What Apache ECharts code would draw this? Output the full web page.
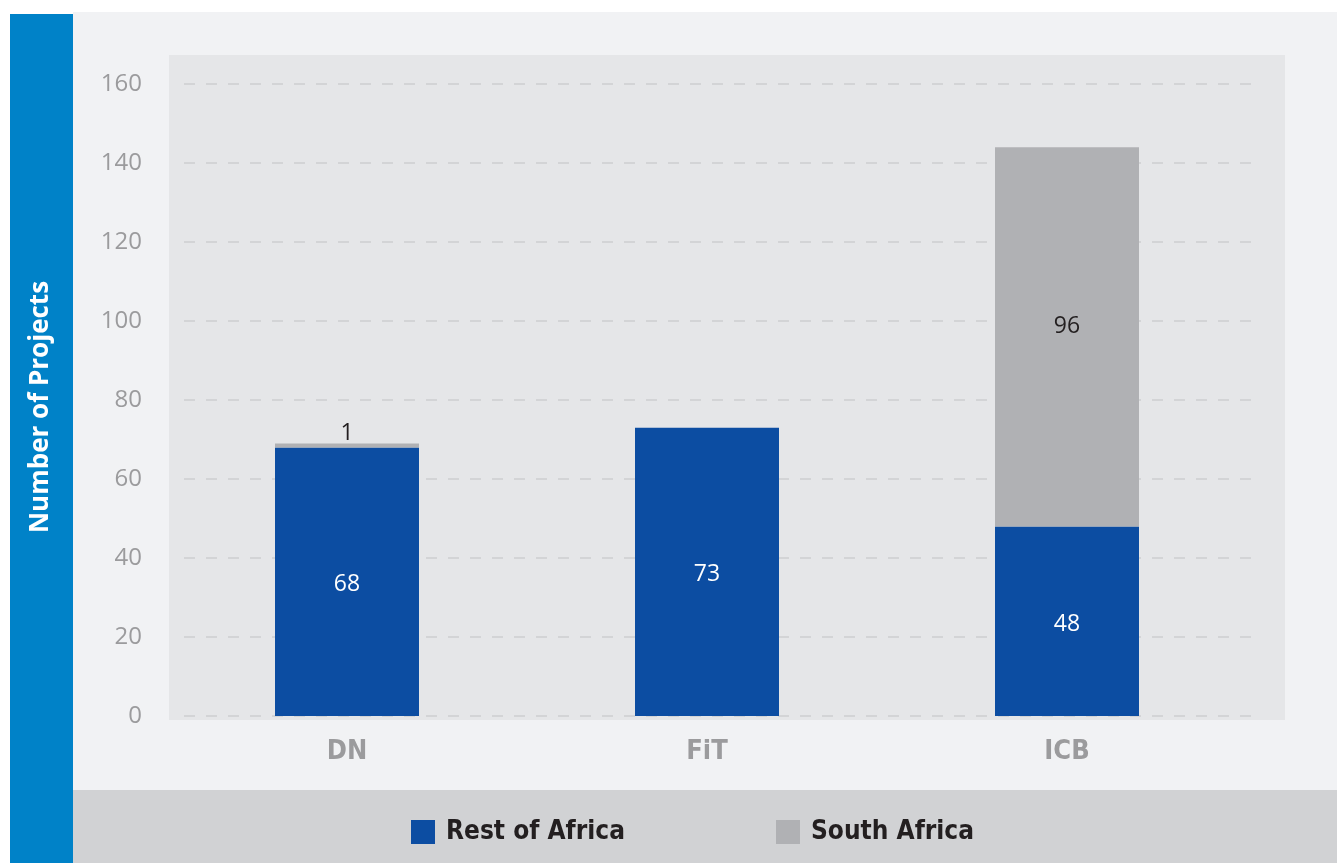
<!DOCTYPE html>
<html><head><meta charset="utf-8">
<script src="https://cdn.jsdelivr.net/npm/echarts@6/dist/echarts.min.js"></script>
<style>html,body{margin:0;padding:0;background:#fff}#c{width:1337px;height:863px}</style>
</head><body><div id="c"></div>
<script>
const categories = ['DN', 'FiT', 'ICB'];
const restOfAfrica = [68, 73, 48];
const southAfrica = [1, null, 96];
const yTicks = { min: 0, max: 160, interval: 20 };
const seriesNames = ['Rest of Africa', 'South Africa'];
const yTitle = 'Number of Projects';

const condensed = "'Liberation Sans Narrow','DejaVu Sans Condensed','Open Sans',sans-serif";
const regular = "'Open Sans','Noto Sans',sans-serif";

const chart = echarts.init(document.getElementById('c'), null, {renderer: 'canvas'});
chart.setOption({
  animation: false,
  backgroundColor: '#ffffff',
  graphic: [
    {type: 'rect', z: -10, shape: {x: 73, y: 12, width: 1264, height: 778}, style: {fill: '#F1F2F4'}},
    {type: 'rect', z: -10, shape: {x: 73, y: 790, width: 1264, height: 73}, style: {fill: '#D1D2D4'}},
    {type: 'rect', z: -10, shape: {x: 10, y: 14, width: 63, height: 849}, style: {fill: '#0082C8'}},
    {type: 'rect', z: -9, shape: {x: 169, y: 55, width: 1116, height: 665}, style: {fill: '#E5E6E8'}}
  ],
  grid: [
    {left: 184, right: 79, top: 84, bottom: 147},
    {left: 167, right: 90, top: 84, bottom: 147}
  ],
  legend: {
    data: seriesNames,
    top: 814,
    left: 406,
    itemWidth: 24,
    itemHeight: 24,
    itemGap: 151,
    icon: 'rect',
    textStyle: {fontFamily: condensed, fontWeight: 'bold', fontSize: 26, color: '#231F20', padding: [0, 0, 0, 6]}
  },
  xAxis: [
    {type: 'category', gridIndex: 0, data: categories, show: false},
    {type: 'category', gridIndex: 1, data: categories,
      axisLine: {show: false}, axisTick: {show: false},
      axisLabel: {margin: 22, fontFamily: condensed, fontWeight: 'bold', fontSize: 27, color: '#9B9B9D'}}
  ],
  yAxis: [
    {type: 'value', gridIndex: 0, min: yTicks.min, max: yTicks.max, interval: yTicks.interval,
      axisLine: {show: false}, axisTick: {show: false},
      axisLabel: {margin: 42, fontFamily: regular, fontSize: 24, color: '#9B9B9D'},
      splitLine: {lineStyle: {color: '#CDCED0', width: 1.5, type: [11, 11]}},
      name: yTitle, nameLocation: 'middle', nameGap: 130, nameRotate: 90,
      nameTextStyle: {color: '#ffffff', fontFamily: regular, fontWeight: 'bold', fontSize: 26, padding: [0, 14, 0, 0]}},
    {type: 'value', gridIndex: 1, min: yTicks.min, max: yTicks.max, interval: yTicks.interval, show: false,
      splitLine: {show: false}}
  ],
  series: [
    {name: seriesNames[0], type: 'bar', stack: 'total', xAxisIndex: 1, yAxisIndex: 1, barWidth: 144,
      itemStyle: {color: '#0C4DA2'}, data: restOfAfrica,
      label: {show: true, position: 'inside', offset: [0, 3], color: '#ffffff', fontFamily: regular, fontSize: 23}},
    {name: seriesNames[1], type: 'bar', stack: 'total', xAxisIndex: 1, yAxisIndex: 1, barWidth: 144,
      itemStyle: {color: '#B0B1B4'},
      data: southAfrica.map(v => v === null ? null : (v < 5 ? {value: v, label: {position: 'top', distance: 0, offset: [0, 2]}} : v)),
      label: {show: true, position: 'inside', offset: [0, -10], color: '#231F20', fontFamily: regular, fontSize: 23}}
  ]
});
</script></body></html>
